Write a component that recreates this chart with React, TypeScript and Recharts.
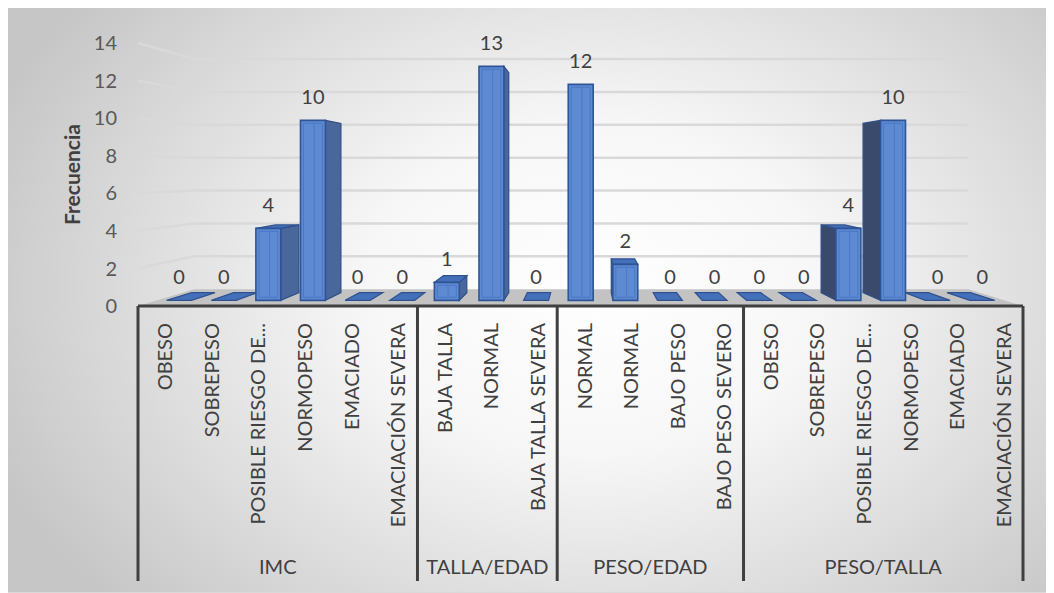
import { Bar, BarChart, CartesianGrid, LabelList, XAxis, YAxis } from "recharts";

// Category axis (two levels) and frequencies per category
const categories = [
  "OBESO",
  "SOBREPESO",
  "POSIBLE RIESGO DE...",
  "NORMOPESO",
  "EMACIADO",
  "EMACIACIÓN SEVERA",
  "BAJA TALLA",
  "NORMAL",
  "BAJA TALLA SEVERA",
  "NORMAL",
  "NORMAL",
  "BAJO PESO",
  "BAJO PESO SEVERO",
  "OBESO",
  "SOBREPESO",
  "POSIBLE RIESGO DE...",
  "NORMOPESO",
  "EMACIADO",
  "EMACIACIÓN SEVERA",
];
const frequencies = [0, 0, 4, 10, 0, 0, 1, 13, 0, 12, 2, 0, 0, 0, 0, 4, 10, 0, 0];
const groupNames = ["IMC", "TALLA/EDAD", "PESO/EDAD", "PESO/TALLA"];
const groupSizes = [6, 3, 4, 6];
const yTicks = [0, 2, 4, 6, 8, 10, 12, 14];

const data = categories.map((name, i) => ({ name, value: frequencies[i] }));

// index of the first category of each group
const groupStarts = groupSizes.reduce<number[]>((acc, n) => [...acc, acc[acc.length - 1] + n], [0]);

const CHART_W = 1047;
const CHART_H = 586;
const MARGIN = { top: 35, right: 32, bottom: 8, left: 20 };
const Y_AXIS_W = 110;
const X_AXIS_H = 280;
const PLOT_LEFT = MARGIN.left + Y_AXIS_W;
const PLOT_RIGHT = CHART_W - MARGIN.right;
const PLOT_BOTTOM = CHART_H - MARGIN.bottom - X_AXIS_H;
const BAND = (PLOT_RIGHT - PLOT_LEFT) / categories.length;

// fake perspective: points recede toward a vanishing point
const VX = 578;
const VY = 163;
const BAR_FRONT = 0.042;
const BAR_BACK = 0.099;
const WALL = 0.125;

const FONT = "Lato, 'Open Sans', sans-serif";
const TEXT = "#404040";

type Pt = [number, number];
const project = (px: number, py: number, t: number): Pt => [px + (VX - px) * t, py + (VY - py) * t];
const pts = (list: Pt[]) => list.map((p) => `${p[0]},${p[1]}`).join(" ");

function Column3D(props: any) {
  const x = Number(props.x);
  const y = Number(props.y);
  const w = Number(props.width);
  const h = Number(props.height);
  const base = y + h;
  const fTL = project(x, y, BAR_FRONT);
  const fTR = project(x + w, y, BAR_FRONT);
  const fBR = project(x + w, base, BAR_FRONT);
  const fBL = project(x, base, BAR_FRONT);
  const bTL = project(x, y, BAR_BACK);
  const bTR = project(x + w, y, BAR_BACK);
  const bBR = project(x + w, base, BAR_BACK);
  const bBL = project(x, base, BAR_BACK);
  const onLeft = x + w / 2 < VX;
  const side = onLeft ? [fTR, bTR, bBR, fBR] : [fTL, bTL, bBL, fBL];
  const fw = fTR[0] - fTL[0];
  return (
    <g>
      {h > 0 && (
        <polygon
          points={pts(side)}
          fill={onLeft ? "#4a679c" : "#394a6c"}
          stroke="#2f4f86"
          strokeWidth={1.2}
        />
      )}
      {y > VY && (
        <polygon points={pts([fTL, fTR, bTR, bTL])} fill="#4470ba" stroke="#2f528f" strokeWidth={1.2} />
      )}
      {h > 0 && (
        <g>
          <polygon points={pts([fTL, fTR, fBR, fBL])} fill="#5e8ad2" stroke="#2f5597" strokeWidth={1.6} />
          <polygon
            points={pts([
              [fTL[0] + 3, fTL[1] + 3],
              [fTR[0] - 3, fTR[1] + 3],
              [fBR[0] - 3, fBR[1] - 3],
              [fBL[0] + 3, fBL[1] - 3],
            ])}
            fill="none"
            stroke="#4a78c6"
            strokeWidth={1}
          />
          <line
            x1={fTL[0] + fw * 0.55}
            x2={fTL[0] + fw * 0.55}
            y1={fTL[1] + 3}
            y2={fBL[1] - 3}
            stroke="#4a78c6"
            strokeWidth={1}
          />
        </g>
      )}
    </g>
  );
}

const renderValueLabel = (props: any) => {
  const x = Number(props.x);
  const y = Number(props.y);
  const w = Number(props.width);
  const [lx, ly] = project(x + w / 2, y, BAR_FRONT);
  return (
    <text
      key={`lbl-${props.index}`}
      x={lx}
      y={ly - 24}
      textAnchor="middle"
      dominantBaseline="central"
      fontFamily={FONT}
      fontSize={20}
      fill={TEXT}
    >
      {props.value}
    </text>
  );
};

// side wall + back wall gridline; the zero line becomes the floor
const renderGridLine = (props: any) => {
  const x1 = Number(props.x1);
  const x2 = Number(props.x2);
  const y1 = Number(props.y1);
  const [bl, by] = project(x1, y1, WALL);
  const [br] = project(x2, y1, WALL);
  if (Math.abs(y1 - PLOT_BOTTOM) < 1) {
    return (
      <polygon
        key={`floor-${y1}`}
        points={pts([
          [x1, y1],
          [x2, y1],
          [br, by],
          [bl, by],
        ])}
        fill="#c3c3c3"
      />
    );
  }
  return (
    <polyline
      key={`grid-${y1}`}
      points={pts([
        [x1, y1],
        [bl, by],
        [br, by],
      ])}
      fill="none"
      stroke="#d9d9d9"
      strokeWidth={2.5}
    />
  );
};

// rotated category label, plus the group divider / group name where a group starts or ends
function CategoryTick(props: any) {
  const cx = Number(props.x);
  const top = Number(props.y);
  const index = props.payload.index ?? categories.indexOf(props.payload.value);
  const tx = cx + 3;
  const ty = top + 17;
  const gi = groupStarts.indexOf(index);
  const isLast = index === categories.length - 1;
  return (
    <g>
      <text
        x={tx}
        y={ty}
        transform={`rotate(-90 ${tx} ${ty})`}
        textAnchor="end"
        dominantBaseline="central"
        fontFamily={FONT}
        fontSize={20}
        fill={TEXT}
      >
        {props.payload.value}
      </text>
      {gi >= 0 && (
        <g>
          <line
            x1={cx - BAND / 2}
            x2={cx - BAND / 2}
            y1={top}
            y2={top + 275}
            stroke="#404040"
            strokeWidth={3}
          />
          <text
            x={cx + ((groupSizes[gi] - 1) * BAND) / 2}
            y={top + 260}
            textAnchor="middle"
            dominantBaseline="central"
            fontFamily={FONT}
            fontSize={20}
            fill={TEXT}
          >
            {groupNames[gi]}
          </text>
        </g>
      )}
      {isLast && (
        <line
          x1={cx + BAND / 2}
          x2={cx + BAND / 2}
          y1={top}
          y2={top + 275}
          stroke="#404040"
          strokeWidth={3}
        />
      )}
    </g>
  );
}

function AxisTitle() {
  const cx = MARGIN.left + 43;
  const cy = MARGIN.top + (PLOT_BOTTOM - MARGIN.top) / 2;
  return (
    <text
      x={cx}
      y={cy}
      transform={`rotate(-90 ${cx} ${cy})`}
      textAnchor="middle"
      dominantBaseline="central"
      fontFamily={FONT}
      fontWeight="bold"
      fontSize={21}
      fill={TEXT}
    >
      Frecuencia
    </text>
  );
}

export default function App() {
  return (
    <div
      style={{
        width: CHART_W,
        height: CHART_H,
        margin: "-1px 0 0 -1px",
        border: "1px solid #d9d9d9",
        boxSizing: "border-box",
        background:
          "radial-gradient(ellipse 62% 80% at 56% 48%, #ffffff 0%, #f7f7f7 35%, #c6c6c6 100%)",
      }}
    >
      <BarChart width={CHART_W} height={CHART_H} data={data} margin={MARGIN} barCategoryGap="22%">
        <CartesianGrid vertical={false} horizontal={renderGridLine} />
        <XAxis
          dataKey="name"
          height={X_AXIS_H}
          interval={0}
          tickSize={0}
          tickMargin={0}
          tickLine={false}
          axisLine={{ stroke: "#404040", strokeWidth: 3 }}
          tick={<CategoryTick />}
        />
        <YAxis
          width={Y_AXIS_W}
          domain={[0, 14]}
          ticks={yTicks}
          interval={0}
          tickSize={0}
          tickMargin={21}
          tickLine={false}
          axisLine={false}
          tick={{ fontFamily: FONT, fontSize: 20, fill: "#595959" }}
          label={<AxisTitle />}
        />
        <Bar dataKey="value" shape={<Column3D />} isAnimationActive={false}>
          <LabelList dataKey="value" content={renderValueLabel} />
        </Bar>
      </BarChart>
    </div>
  );
}
